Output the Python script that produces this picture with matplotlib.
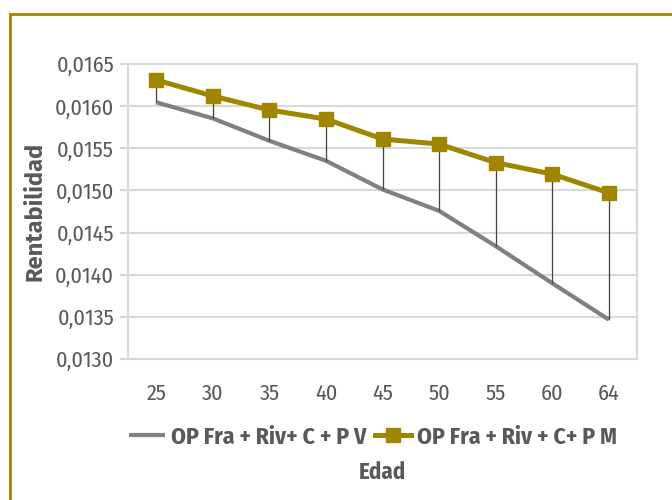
import matplotlib.pyplot as plt
from matplotlib.patches import Rectangle
from matplotlib.ticker import FuncFormatter

plt.rcParams['font.family'] = ['Fira Sans Condensed', 'DejaVu Sans']

edades = ['25', '30', '35', '40', '45', '50', '55', '60', '64']
serie_v = [0.016045, 0.015855, 0.015589, 0.015352, 0.015012, 0.014758, 0.01434, 0.0139, 0.013468]
serie_m = [0.01631, 0.01612, 0.015954, 0.015847, 0.01561, 0.01555, 0.01533, 0.015194, 0.014972]
yticks = [0.0130, 0.0135, 0.0140, 0.0145, 0.0150, 0.0155, 0.0160, 0.0165]

gold = '#A08600'
grey = '#808080'
text_c = '#595959'
grid_c = '#D9D9D9'

fig = plt.figure(figsize=(6.72, 5), dpi=100)
# gold outer frame, open to the right and bottom edges
fig.patches.append(Rectangle((10 / 672, -0.1), 1.2, 1 - 14 / 500 + 0.1,
                             transform=fig.transFigure, fill=False,
                             edgecolor=gold, linewidth=2))
ax = fig.add_axes([128 / 672, 1 - 359 / 500, (637 - 128) / 672, (359 - 64) / 500])

x = range(len(edades))
# high-low connectors between the two series
ax.vlines(x, serie_v, serie_m, color='#404040', linewidth=0.9, zorder=3)
ax.plot(x, serie_v, color=grey, linewidth=3, solid_capstyle='butt', zorder=2,
        label='OP Fra + Riv+ C + P V')
ax.plot(x, serie_m, color=gold, linewidth=3.6, marker='s', markersize=10,
        markerfacecolor=gold, markeredgecolor=gold, zorder=4,
        label='OP Fra + Riv + C+ P M')

ax.set_xlim(-0.5, len(edades) - 0.5)
ax.set_ylim(0.0130, 0.0165)
ax.set_xticks(list(x))
ax.set_xticklabels(edades)
ax.set_yticks(yticks)
ax.yaxis.set_major_formatter(FuncFormatter(lambda v, p: f'{v:.4f}'.replace('.', ',')))
ax.grid(axis='y', color=grid_c, linewidth=1.5)
ax.set_axisbelow(True)
for s in ax.spines.values():
    s.set_color(grid_c)
    s.set_linewidth(1.5)
ax.tick_params(axis='y', colors=grid_c, length=6, width=1.5, labelcolor=text_c,
               labelsize=16, pad=4)
ax.tick_params(axis='x', length=0, labelcolor=text_c, labelsize=16, pad=17)

ax.set_ylabel('Rentabilidad', color=text_c, fontsize=17, fontweight='bold',
              family='Fira Sans', labelpad=6)
fig.text(382 / 672, 1 - 472 / 500, 'Edad', color=text_c, fontsize=16.5,
         fontweight='bold', ha='center', va='center')

leg = fig.legend(loc='center', bbox_to_anchor=(373 / 672, 1 - 437 / 500), ncol=2,
                 frameon=False, fontsize=17, handlelength=1.5, columnspacing=0.4,
                 handletextpad=0.25, borderpad=0, borderaxespad=0)
for t in leg.get_texts():
    t.set_color(text_c)
    t.set_fontweight('bold')

fig.savefig('out.png', dpi=100)
